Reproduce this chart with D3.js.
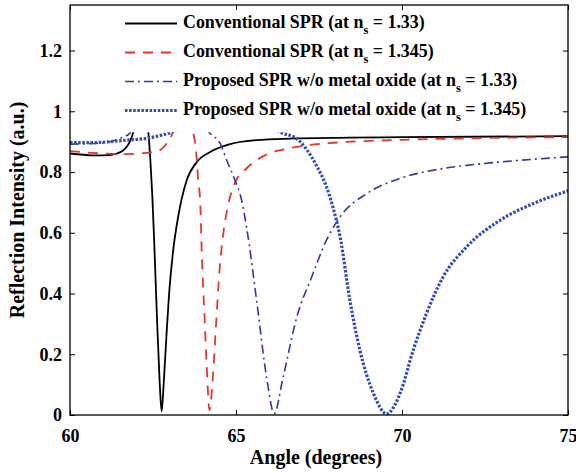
<!DOCTYPE html>
<html>
<head>
<meta charset="utf-8">
<script src="https://cdn.jsdelivr.net/npm/d3@7"></script>
<style>
  body { margin: 0; background: #fff; }
  svg text { font-family: "Liberation Serif", "Times New Roman", serif; font-weight: bold; }
</style>
</head>
<body>
<div id="chart"></div>
<script>
// reflection curves, [angle (deg), reflection intensity]
const convN133 = [
  [60, 0.861], [60.69, 0.855], [61.0, 0.855], [61.41, 0.861], [61.71, 0.883],
  [61.86, 0.915], [61.95, 0.95], [62.1, 1.0], [62.28, 0.97], [62.36, 0.93],
  [62.42, 0.84], [62.48, 0.72], [62.54, 0.56], [62.62, 0.32], [62.7, 0.11],
  [62.76, 0.012], [62.82, 0.1], [62.91, 0.27], [63.0, 0.42], [63.11, 0.544],
  [63.26, 0.654], [63.51, 0.771], [63.82, 0.833], [64.22, 0.866], [64.82, 0.892],
  [65.62, 0.905], [66.63, 0.91], [68.43, 0.913], [70, 0.915], [75, 0.918]
];
const convN1345 = [
  [60, 0.869], [60.69, 0.863], [61.71, 0.859], [62.31, 0.863], [62.71, 0.872],
  [62.91, 0.894], [63.06, 0.921], [63.15, 0.95], [63.4, 1.0], [63.62, 0.96],
  [63.71, 0.929], [63.77, 0.894], [63.82, 0.839], [63.86, 0.773], [63.92, 0.707],
  [63.97, 0.53], [64.05, 0.33], [64.12, 0.158], [64.2, 0.016], [64.3, 0.12],
  [64.4, 0.3], [64.5, 0.47], [64.62, 0.6], [64.75, 0.685], [64.97, 0.765],
  [65.3, 0.81], [65.62, 0.839], [66.02, 0.862], [66.42, 0.874], [67.13, 0.888],
  [68.33, 0.899], [70, 0.906], [72, 0.911], [75, 0.915]
];
const propN133 = [
  [60, 0.892], [60.69, 0.894], [61.2, 0.9], [61.51, 0.911], [61.81, 0.929],
  [62.0, 0.98], [63.0, 0.99], [63.8, 0.97], [64.22, 0.927], [64.52, 0.894],
  [64.72, 0.839], [64.97, 0.773], [65.17, 0.707], [65.32, 0.618], [65.62, 0.378],
  [65.92, 0.125], [66.15, 0.005], [66.42, 0.125], [66.83, 0.322], [67.3, 0.46],
  [67.68, 0.565], [68.13, 0.652], [68.94, 0.729], [69.94, 0.779], [70.94, 0.806],
  [71.95, 0.822], [72.95, 0.833], [75, 0.85]
];
const propN1345 = [
  [60, 0.897], [60.69, 0.897], [61.71, 0.905], [62.31, 0.911], [63.01, 0.929],
  [64.0, 0.97], [65.0, 0.98], [65.9, 0.96], [66.38, 0.929], [66.83, 0.91],
  [67.13, 0.874], [67.43, 0.82], [67.73, 0.75], [67.93, 0.68], [68.13, 0.59],
  [68.43, 0.378], [68.73, 0.214], [69.14, 0.071], [69.54, 0.004], [69.94, 0.071],
  [70.34, 0.214], [70.74, 0.335], [71.24, 0.455], [71.95, 0.554], [72.95, 0.641],
  [73.95, 0.696], [75, 0.738]
];

const seriesNames = ["Conventional SPR", "Conventional SPR", "Proposed SPR w/o metal oxide", "Proposed SPR w/o metal oxide"];
const seriesNs = ["1.33", "1.345", "1.33", "1.345"];
const xTicks = [60, 65, 70, 75];
const yTicks = [0, 0.2, 0.4, 0.6, 0.8, 1, 1.2];

const styles = [
  { color: "#000000", width: 1.8, dash: null },
  { color: "#e8352b", width: 1.8, dash: "10,8" },
  { color: "#2a3da0", width: 1.6, dash: "9,4,2,4" },
  { color: "#2f4db5", width: 3.2, dash: "2.5,1.6" }
];
const allSeries = [convN133, convN1345, propN133, propN1345];

const serif = "'Liberation Serif', 'Times New Roman', serif";
const svgWidth = 576, svgHeight = 473;
const margin = { top: 5, right: 8, bottom: 58, left: 70 };
const width = svgWidth - margin.left - margin.right;
const height = svgHeight - margin.top - margin.bottom;

const svg = d3.select("#chart").append("svg")
  .attr("width", svgWidth)
  .attr("height", svgHeight);

const g = svg.append("g")
  .attr("transform", `translate(${margin.left},${margin.top})`);

const x = d3.scaleLinear().domain([60, 75]).range([0, width]);
const y = d3.scaleLinear().domain([0, 1.35]).range([height, 0]);

g.append("clipPath").attr("id", "plot-clip")
  .append("rect").attr("width", width).attr("height", height);

const line = d3.line()
  .x(d => x(d[0]))
  .y(d => y(d[1]))
  .curve(d3.curveMonotoneX);

const curves = g.append("g").attr("clip-path", "url(#plot-clip)");
allSeries.forEach((data, i) => {
  curves.append("path")
    .datum(data)
    .attr("fill", "none")
    .attr("stroke", styles[i].color)
    .attr("stroke-width", styles[i].width)
    .attr("stroke-dasharray", styles[i].dash)
    .attr("d", line);
});

// legend box (opaque, no border) hides the top of the curves
g.append("rect")
  .attr("x", 2).attr("y", 1)
  .attr("width", 488).attr("height", y(0.931) - 1)
  .attr("fill", "#fff");

const legend = g.append("g");
seriesNames.forEach((name, i) => {
  const ly = 18.5 + i * 29;
  legend.append("path")
    .datum([[55, ly], [107, ly]])
    .attr("fill", "none")
    .attr("stroke", styles[i].color)
    .attr("stroke-width", styles[i].width)
    .attr("stroke-dasharray", styles[i].dash)
    .attr("d", d3.line());
  const t = legend.append("text")
    .attr("x", 113).attr("y", ly + 4)
    .style("font-family", serif)
    .style("font-size", "17.9px")
    .attr("fill", "#000");
  t.append("tspan").text(name + " (at n");
  t.append("tspan").attr("dy", 6).style("font-size", "12.5px").text("s");
  t.append("tspan").attr("dy", -6).text(" = " + seriesNs[i] + ")");
});

// axes with inward ticks on all four sides
const fmt = d => String(+d.toFixed(1));
g.append("g")
  .attr("transform", `translate(0,${height})`)
  .call(d3.axisBottom(x).tickValues(xTicks).tickSizeInner(-5).tickSizeOuter(0).tickPadding(14))
  .call(a => a.select(".domain").remove());
g.append("g")
  .call(d3.axisTop(x).tickValues(xTicks).tickSizeInner(-5).tickSizeOuter(0).tickFormat(""))
  .call(a => a.select(".domain").remove());
g.append("g")
  .call(d3.axisLeft(y).tickValues(yTicks).tickSizeInner(-5).tickSizeOuter(0).tickPadding(8).tickFormat(fmt))
  .call(a => a.select(".domain").remove());
g.append("g")
  .attr("transform", `translate(${width},0)`)
  .call(d3.axisRight(y).tickValues(yTicks).tickSizeInner(-5).tickSizeOuter(0).tickFormat(""))
  .call(a => a.select(".domain").remove());

g.selectAll(".tick text")
  .style("font-size", "18px")
  .style("font-family", serif)
  .style("font-weight", "bold")
  .attr("fill", "#000");
g.selectAll(".tick line").attr("stroke", "#000");

g.append("rect")
  .attr("width", width).attr("height", height)
  .attr("fill", "none")
  .attr("stroke", "#000")
  .attr("stroke-width", 1.3);

svg.append("text")
  .attr("x", margin.left + width / 2 - 3)
  .attr("y", 464)
  .attr("text-anchor", "middle")
  .style("font-family", serif)
  .style("font-size", "20px")
  .text("Angle (degrees)");

svg.append("text")
  .attr("transform", `translate(24,${margin.top + height / 2}) rotate(-90)`)
  .attr("text-anchor", "middle")
  .style("font-family", serif)
  .style("font-size", "20px")
  .text("Reflection Intensity (a.u.)");
</script>
</body>
</html>
